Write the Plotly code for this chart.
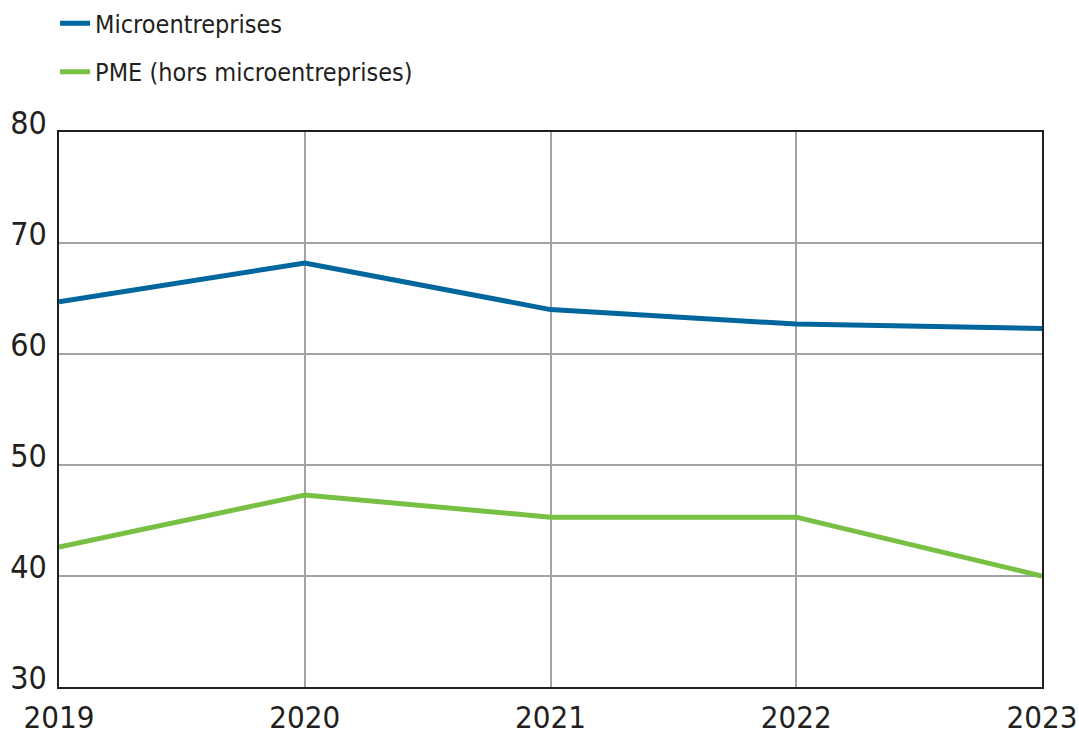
import plotly.graph_objects as go

years = [2019, 2020, 2021, 2022, 2023]
micro = [64.7, 68.2, 64.0, 62.7, 62.3]
pme = [42.6, 47.3, 45.3, 45.3, 40.0]
series_names = ["Microentreprises", "PME (hors microentreprises)"]
y_ticks = [30, 40, 50, 60, 70, 80]

FONT = "DejaVu Sans Condensed, Liberation Sans Narrow, sans-serif"
BLUE = "#00669e"
GREEN = "#77c043"

fig = go.Figure()
fig.add_trace(go.Scatter(x=years, y=micro, mode="lines", name=series_names[0],
                         line=dict(color=BLUE, width=5), legendgroup="a"))
fig.add_trace(go.Scatter(x=years, y=pme, mode="lines", name=series_names[1],
                         line=dict(color=GREEN, width=5), legendgroup="b"))

fig.update_layout(
    width=1079, height=739,
    margin=dict(l=59, r=37, t=132, b=52, autoexpand=False),
    paper_bgcolor="white", plot_bgcolor="white",
    font=dict(family=FONT, color="#231f20", size=30),
    showlegend=True,
    legend=dict(x=-0.004, xanchor="left", y=1.237, yanchor="top",
                font=dict(size=25, family=FONT, color="#231f20"),
                tracegroupgap=13, itemwidth=30, bgcolor="rgba(0,0,0,0)"),
    xaxis=dict(range=[2019, 2023], tickvals=years, ticktext=[str(y) for y in years],
               showgrid=True, gridcolor="#a3a3a3", gridwidth=1.5,
               showline=True, linecolor="#231f20", linewidth=1.5, mirror=True,
               ticks="", ticklabelstandoff=2, zeroline=False, automargin=False,
               ticklabeloverflow="allow",
               tickfont=dict(size=31, family=FONT)),
    yaxis=dict(range=[30, 80], tickvals=y_ticks,
               showgrid=True, gridcolor="#a3a3a3", gridwidth=1.5,
               showline=True, linecolor="#231f20", linewidth=1.5, mirror=True,
               ticks="", ticklabelstandoff=4, ticklabelshift=-9, zeroline=False,
               automargin=False, ticklabeloverflow="allow",
               tickfont=dict(size=32, family=FONT)),
)

fig.write_html("out.html", post_script="document.body.style.margin='0';",
               config={"displayModeBar": False})
